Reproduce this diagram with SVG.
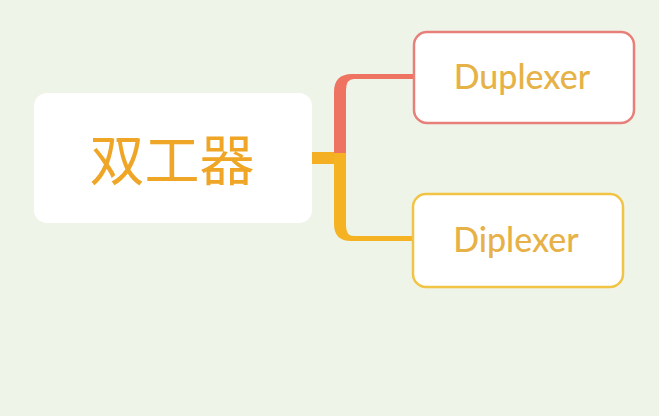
<svg xmlns="http://www.w3.org/2000/svg" width="659" height="416" viewBox="0 0 659 416">
<style>
.node{fill:#ffffff}
.cn{font-family:"Noto Sans CJK SC","Noto Sans",sans-serif;font-size:55px;fill:#EFA526;text-anchor:middle}
.en{font-family:Lato,"Open Sans",sans-serif;font-size:34px;font-weight:500;fill:#E6B247;text-anchor:middle}
</style>
<rect width="659" height="416" fill="#EEF4E8"/>
<g id="connectors">
<rect x="310" y="152" width="28" height="12" fill="#F5AF22"/>
<path d="M334 155 L334 92 Q334 74 352 74 L413 74 L413 79 L354 79 Q346 79 346 90 L346 155 Z" fill="#EE7360"/>
<path d="M334 153 L334 224 Q334 241 351 241 L412 241 L412 236 L354 236 Q346 236 346 226 L346 153 Z" fill="#F5B324"/>
</g>
<g id="root">
<rect class="node" x="34" y="93" width="278" height="130" rx="13"/>
<text class="cn" x="172" y="180">双工器</text>
</g>
<g id="duplexer">
<rect class="node" x="414" y="32" width="220" height="91" rx="13" stroke="#E77F7A" stroke-width="2.5"/>
<text class="en" x="522" y="89">Duplexer</text>
</g>
<g id="diplexer">
<rect class="node" x="413" y="194" width="210" height="93" rx="13" stroke="#F2C445" stroke-width="2.5"/>
<text class="en" x="516" y="252">Diplexer</text>
</g>
</svg>
